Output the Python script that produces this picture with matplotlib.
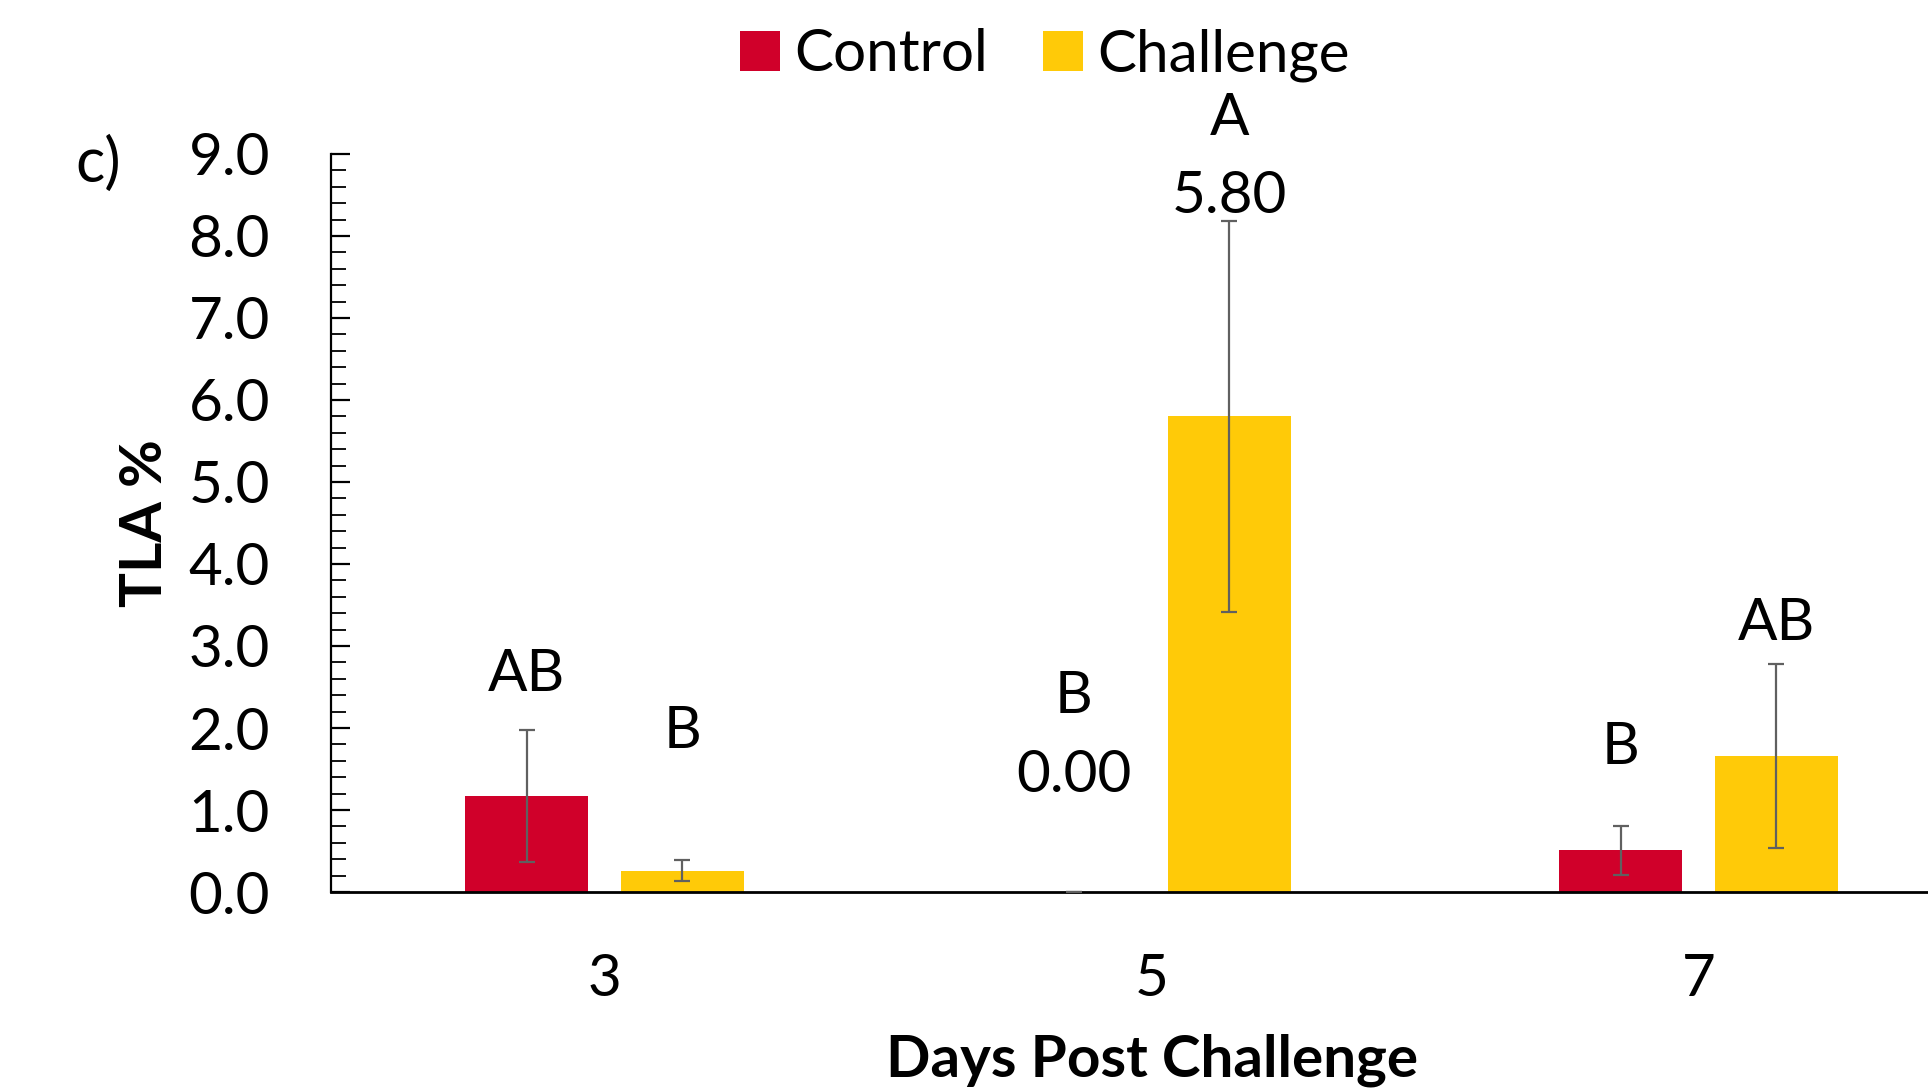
import matplotlib
matplotlib.use("Agg")
import matplotlib.pyplot as plt
import numpy as np
from matplotlib.ticker import MultipleLocator

plt.rcParams['font.family'] = ['Lato', 'DejaVu Sans']

days = ["3", "5", "7"]
control = [1.17, 0.00, 0.51]
control_err = [0.81, 0.00, 0.30]
challenge = [0.26, 5.80, 1.66]
challenge_err = [0.13, 2.38, 1.12]
control_letters = ["AB", "B", "B"]
challenge_letters = ["B", "A", "AB"]

c_red = "#D0002A"
c_yel = "#FFCA08"
c_err = "#606060"

fig = plt.figure(figsize=(19.28, 10.88), dpi=100)
ax = fig.add_axes([331/1928, 1-892/1088, (1972-331)/1928, (892-154)/1088])

x = np.arange(len(days))
w = 0.225
off = 0.142
b1 = ax.bar(x - off, control, w, color=c_red, label="Control", zorder=2)
b2 = ax.bar(x + off, challenge, w, color=c_yel, label="Challenge", zorder=2)
ekw = dict(ecolor=c_err, elinewidth=1.6, capsize=6, capthick=1.6, fmt='none', zorder=3)
ax.errorbar(x - off, control, yerr=control_err, **ekw)
ax.errorbar(x + off, challenge, yerr=challenge_err, **ekw)

fs = 42
# letter labels
ax.text(x[0] - off, control[0] + control_err[0] + 0.67, control_letters[0], ha='center', va='center', fontsize=fs)
ax.text(x[0] + off, challenge[0] + challenge_err[0] + 1.57, challenge_letters[0], ha='center', va='center', fontsize=fs)
ax.text(x[1] - off, control[1] + 2.38, control_letters[1], ha='center', va='center', fontsize=fs)
ax.text(x[1] - off, control[1] + 1.42, f"{control[1]:.2f}", ha='center', va='center', fontsize=fs)
ax.text(x[1] + off, challenge[1] + challenge_err[1] + 0.30, f"{challenge[1]:.2f}", ha='center', va='center', fontsize=fs)
ax.text(x[1] + off, challenge[1] + challenge_err[1] + 1.25, challenge_letters[1], ha='center', va='center', fontsize=fs)
ax.text(x[2] - off, control[2] + control_err[2] + 0.95, control_letters[2], ha='center', va='center', fontsize=fs)
ax.text(x[2] + off, challenge[2] + challenge_err[2] + 0.50, challenge_letters[2], ha='center', va='center', fontsize=fs)

ax.set_xlim(-0.5, 2.5)
ax.set_ylim(0, 9.0)
ax.yaxis.set_major_locator(MultipleLocator(1.0))
ax.yaxis.set_minor_locator(MultipleLocator(0.2))
ax.set_yticks(np.arange(0, 9.01, 1.0))
ax.set_yticklabels([f"{v:.1f}" for v in np.arange(0, 9.01, 1.0)])
ax.set_xticks(x)
ax.set_xticklabels(days)
ax.tick_params(axis='y', which='major', direction='in', length=14, width=1.6, labelsize=fs, pad=44)
ax.tick_params(axis='y', which='minor', direction='in', length=10.5, width=1.3)
ax.tick_params(axis='x', which='major', length=0, labelsize=fs, pad=44)
for s in ['top', 'right']:
    ax.spines[s].set_visible(False)
ax.spines['left'].set_linewidth(1.6)
ax.spines['bottom'].set_linewidth(2.0)

fig.text(145/1928, 1-523/1088, "TLA %", rotation=90, ha='center', va='center', fontsize=fs, fontweight='bold')
fig.text(1152/1928, 1-1060/1088, "Days Post Challenge", ha='center', va='center', fontsize=fs, fontweight='bold')
fig.text(98/1928, 1-164/1088, "c)", ha='center', va='center', fontsize=fs + 2)

fig.legend(handles=[b1, b2], labels=["Control", "Challenge"], loc='center', bbox_to_anchor=(1045/1928, 1-55/1088),
           ncol=2, frameon=False, fontsize=fs, handlelength=0.68, handleheight=0.68, handletextpad=0.25, columnspacing=0.95)

fig.savefig("out.png", dpi=100)
